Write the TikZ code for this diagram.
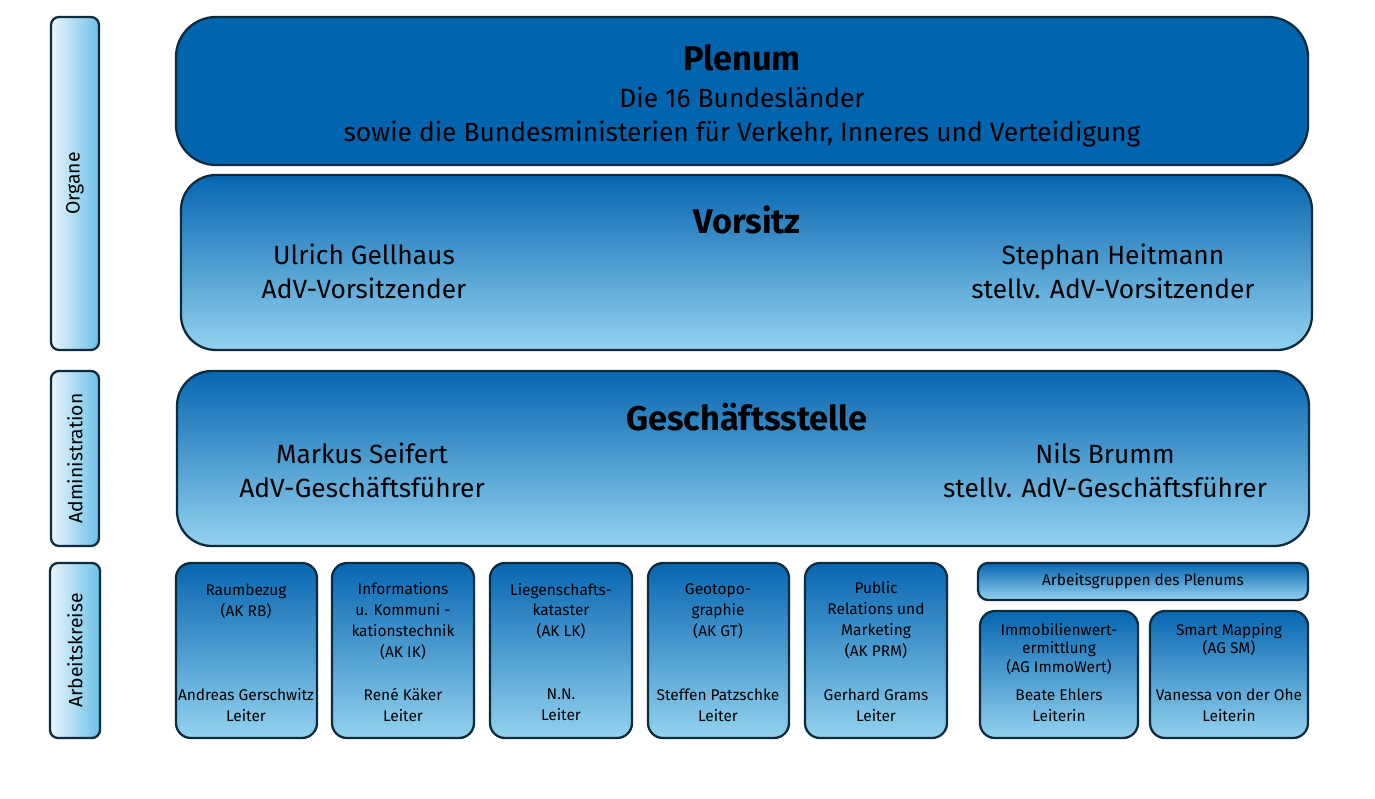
\documentclass[tikz,border=0pt]{standalone}
\usepackage{fontspec}
\setmainfont{Fira Sans}
\usetikzlibrary{fit}
\definecolor{plenumblau}{HTML}{0064AF}
\definecolor{boxdunkel}{HTML}{0766B1}
\definecolor{boxhell}{HTML}{93D2EF}
\definecolor{randblau}{HTML}{0D2B3E}
\definecolor{seitehell}{HTML}{EAF6FC}
\definecolor{seiteblau}{HTML}{6CC0E8}

\begin{document}
\begin{tikzpicture}[x=0.02cm, y=-0.02cm,
  rand/.style={draw=randblau, line width=1.3pt, inner sep=0pt},
  hauptbox/.style={rand, rounded corners=0.7cm, top color=boxdunkel, bottom color=boxhell},
  akbox/.style={rand, rounded corners=0.3cm, top color=boxdunkel, bottom color=boxhell},
  seitenbox/.style={rand, rounded corners=0.16cm, left color=seitehell, right color=seiteblau},
  titel/.style={font=\fontsize{19.5}{22}\selectfont\bfseries},
  gross/.style={align=center, font=\fontsize{15}{19.3}\selectfont},
  klein/.style={align=center, font=\fontsize{8.8}{11.9}\selectfont},
  seite/.style={rotate=90, font=\fontsize{11}{13}\selectfont}]
\useasboundingbox (0,0) rectangle (1375,798);

% Seitenleiste
\node[seitenbox, fit={(51,17) (99,350)}] (organe) {};
\node[seitenbox, fit={(51,371) (99,546)}] (admin) {};
\node[seitenbox, fit={(50,563) (100,738)}] (ak) {};
\node[seite] (organetext) at (organe.center) {Organe};
\node[seite] (admintext) at (admin.center) {Administration};
\node[seite] (aktext) at (ak.center) {Arbeitskreise};

% Plenum
\node[rand, rounded corners=0.8cm, fill=plenumblau, fit={(176,17) (1308,165)}] (plenum) {};
\node[titel] (plenumtitel) at (742,58) {Plenum};
\node[gross] (plenumtext) at (742,117) {Die 16 Bundesländer\\sowie die Bundesministerien für Verkehr, Inneres und Verteidigung};

% Vorsitz
\node[hauptbox, fit={(181,175) (1312,350)}] (vorsitz) {};
\node[titel] (vorsitztitel) at (747,220) {Vorsitz};
\node[gross] (vorsitzender) at (364,271) {Ulrich Gellhaus\\AdV-Vorsitzender};
\node[gross] (stellvvorsitz) at (1113,271) {Stephan Heitmann\\stellv. AdV-Vorsitzender};

% Geschaeftsstelle
\node[hauptbox, fit={(177,371) (1309,546)}] (gst) {};
\node[titel] (gsttitel) at (747,417) {Geschäftsstelle};
\node[gross] (gf) at (362,470) {Markus Seifert\\AdV-Geschäftsführer};
\node[gross] (stellvgf) at (1105,470) {Nils Brumm\\stellv. AdV-Geschäftsführer};

% Arbeitskreise
\node[akbox, fit={(176,563) (317,738)}] (rb) {};
\node[akbox, fit={(332,563) (474,738)}] (ik) {};
\node[akbox, fit={(490,563) (632,738)}] (lk) {};
\node[akbox, fit={(648,563) (789,738)}] (gt) {};
\node[akbox, fit={(805,563) (947,738)}] (prm) {};
\node[akbox, rounded corners=0.2cm, fit={(978,563) (1308,600)}] (agp) {};
\node[akbox, fit={(980,611) (1138,738)}] (immo) {};
\node[akbox, fit={(1150,611) (1308,738)}] (sm) {};

\node[klein] (rbname) at (246,601) {Raumbezug\\(AK RB)};
\node[klein] (ikname) at (403,621) {Informations\\u. Kommuni -\\kationstechnik\\(AK IK)};
\node[klein] (lkname) at (561,611) {Liegenschafts-\\kataster\\(AK LK)};
\node[klein] (gtname) at (718,611) {Geotopo-\\graphie\\(AK GT)};
\node[klein] (prmname) at (876,620) {Public\\Relations und\\Marketing\\(AK PRM)};
\node[klein] (agpname) at (1143,581) {Arbeitsgruppen des Plenums};
\node[klein, font=\fontsize{8.8}{10.3}\selectfont] (immoname) at (1059,649) {Immobilienwert-\\ermittlung\\(AG ImmoWert)};
\node[klein, font=\fontsize{8.8}{10.3}\selectfont] (smname) at (1229,640) {Smart Mapping\\(AG SM)};

\node[klein] (rbleiter) at (246,705) {Andreas Gerschwitz\\Leiter};
\node[klein] (ikleiter) at (403,705) {René Käker\\Leiter};
\node[klein] (lkleiter) at (561,705) {N.N.\\Leiter};
\node[klein] (gtleiter) at (718,705) {Steffen Patzschke\\Leiter};
\node[klein] (prmleiter) at (876,705) {Gerhard Grams\\Leiter};
\node[klein] (immoleiter) at (1059,705) {Beate Ehlers\\Leiterin};
\node[klein] (smleiter) at (1229,705) {Vanessa von der Ohe\\Leiterin};
\end{tikzpicture}
\end{document}
